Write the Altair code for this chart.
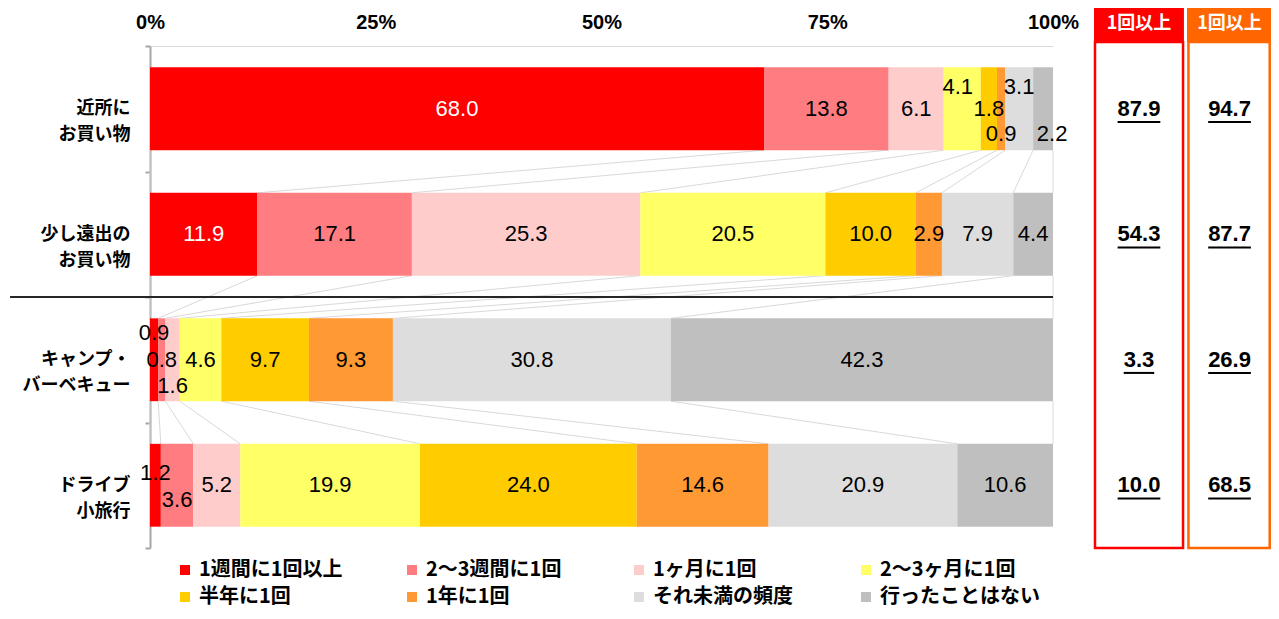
import json
import altair as alt
import pandas as pd

# ---------------- data ----------------
row_labels = [["近所に", "お買い物"], ["少し遠出の", "お買い物"],
              ["キャンプ・", "バーベキュー"], ["ドライブ", "小旅行"]]
categories = ["1週間に1回以上", "2～3週間に1回", "1ヶ月に1回", "2～3ヶ月に1回",
              "半年に1回", "1年に1回", "それ未満の頻度", "行ったことはない"]
colors = ["#FF0000", "#FF7C80", "#FFCCCC", "#FFFF66",
          "#FFCC00", "#FF9933", "#DDDDDD", "#BFBFBF"]

v_near = [68.0, 13.8, 6.1, 4.1, 1.8, 0.9, 3.1, 2.2]
v_far = [11.9, 17.1, 25.3, 20.5, 10.0, 2.9, 7.9, 4.4]
v_camp = [0.9, 0.8, 1.6, 4.6, 9.7, 9.3, 30.8, 42.3]
v_drive = [1.2, 3.6, 5.2, 19.9, 24.0, 14.6, 20.9, 10.6]
series = [v_near, v_far, v_camp, v_drive]

summary_headers = ["1回以上", "1回以上"]
summary_a = [87.9, 54.3, 3.3, 10.0]
summary_b = [94.7, 87.7, 26.9, 68.5]

x_ticks = [0, 25, 50, 75, 100]

# label nudges for small segments: (row, category index) -> (dx %, dy rows)
label_nudge = {
    (0, 3): (-0.5, -0.17), (0, 5): (0.0, 0.2), (0, 6): (0.0, -0.17),
    (0, 7): (1.0, 0.2),
    (2, 0): (0.0, -0.21), (2, 2): (0.0, 0.21),
    (3, 0): (0.0, -0.1), (3, 1): (0.0, 0.12),
}

# ---------------- layout helpers ----------------
HALF = 0.33
recs = []
cums = []
for r, vals in enumerate(series):
    c = 0.0
    cum = [0.0]
    for k, v in enumerate(vals):
        s, e = c, round(c + v, 1)
        dx, dy = label_nudge.get((r, k), (0.0, 0.0))
        recs.append(dict(row=r, cat=categories[k], start=s, end=e,
                         y0=r - HALF, y1=r + HALF,
                         lx=(s + e) / 2 + dx, ly=r + dy,
                         label=f"{v:.1f}",
                         tcol="white" if (k == 0 and v > 5) else "black"))
        c = e
        cum.append(e)
    cums.append(cum)
bars = pd.DataFrame(recs)

conn = []
for r in range(len(series) - 1):
    for k in range(len(categories) + 1):
        conn.append(dict(x=cums[r][k], x2=cums[r + 1][k],
                         y=r + HALF, y2=r + 1 - HALF))
conn = pd.DataFrame(conn)

sep = pd.DataFrame([dict(x=-15.5, x2=100, y=1.5)])

col_x = [109.52, 119.55]
hdr = pd.DataFrame([
    dict(x=104.54, x2=114.5, y=-0.9, y2=-0.532, fill="#FF0000", tx=col_x[0], ty=-0.675, t=summary_headers[0]),
    dict(x=114.84, x2=124.2, y=-0.9, y2=-0.532, fill="#FF6600", tx=col_x[1], ty=-0.675, t=summary_headers[1]),
])
box = pd.DataFrame([
    dict(x=104.65, x2=114.4, y=-0.532, y2=3.5, stroke="#FF0000"),
    dict(x=115.0, x2=124.0, y=-0.532, y2=3.5, stroke="#FF6600"),
])


def text_halfwidth(s):
    px = sum(12.2 if ch.isdigit() else 6.1 for ch in s)
    return px / 2 / 9.03


summ = []
for r in range(4):
    for j, vals in enumerate([summary_a, summary_b]):
        t = f"{vals[r]:.1f}"
        hw = text_halfwidth(t)
        summ.append(dict(x=col_x[j], y=r, t=t,
                         ux=col_x[j] - hw, ux2=col_x[j] + hw, uy=r + 0.105))
summ = pd.DataFrame(summ)

# ---------------- scales / axes ----------------
xs = alt.Scale(domain=[0, 100], nice=False, zero=False)
ys = alt.Scale(domain=[-0.5, 3.5], reverse=True, nice=False, zero=False)

lookup = [""] + row_labels
x_axis = alt.Axis(orient="top", values=x_ticks, labelExpr="datum.value + '%'",
                  title=None, ticks=False, tickSize=0, grid=False,
                  domainColor="#D9D9D9", domainWidth=1,
                  labelFont="Liberation Sans", labelFontSize=20,
                  labelFontWeight="bold", labelColor="#000000",
                  labelPadding=14, labelFlush=False, labelOverlap=False)
y_axis = alt.Axis(orient="left", values=[-0.5, 0.5, 1.5, 2.5, 3.5],
                  labelExpr=json.dumps(lookup, ensure_ascii=False) + "[round(datum.value + 0.5)]",
                  title=None, grid=False, domainColor="#A6A6A6", domainWidth=2,
                  tickColor="#A6A6A6", tickWidth=2, tickSize=5,
                  labelFont="Noto Sans CJK JP", labelFontSize=18,
                  labelFontWeight="bold", labelColor="#000000",
                  labelAlign="right", labelPadding=15, labelOffset=-62.75,
                  labelLineHeight=26, labelOverlap=False)


def X(f):
    return alt.X(f, type="quantitative", scale=xs, axis=x_axis)


def Y(f):
    return alt.Y(f, type="quantitative", scale=ys, axis=y_axis)


connectors = alt.Chart(conn).mark_rule(color="#D9D9D9", strokeWidth=1).encode(
    x=X("x"), x2="x2", y=Y("y"), y2="y2")

bar_layer = alt.Chart(bars).mark_rect().encode(
    x=X("start"), x2="end", y=Y("y0"), y2="y1",
    color=alt.Color("cat:N", scale=alt.Scale(domain=categories, range=colors),
                    sort=categories,
                    legend=alt.Legend(title=None, orient="none", columns=4,
                                      direction="horizontal",
                                      legendX=25, legendY=514, padding=0,
                                      gridAlign="all", columnPadding=43,
                                      rowPadding=7, symbolType="square",
                                      symbolSize=100, symbolStrokeWidth=0,
                                      labelFont="Noto Sans CJK JP",
                                      labelFontSize=20, labelFontWeight="bold",
                                      labelColor="#000000", labelLimit=400,
                                      labelOffset=4)))

bar_text = alt.Chart(bars).mark_text(font="Liberation Sans", fontSize=22,
                                     baseline="middle", align="center").encode(
    x=X("lx"), y=Y("ly"), text="label:N",
    color=alt.Color("tcol:N", scale=None))

sep_layer = alt.Chart(sep).mark_rule(color="#262626", strokeWidth=2).encode(
    x=X("x"), x2="x2", y=Y("y"))

hdr_rect = alt.Chart(hdr).mark_rect().encode(
    x=X("x"), x2="x2", y=Y("y"), y2="y2", fill=alt.Fill("fill:N", scale=None))
hdr_text = alt.Chart(hdr).mark_text(font="Noto Sans CJK JP", fontSize=18,
                                    fontWeight="bold", color="white",
                                    baseline="middle").encode(
    x=X("tx"), y=Y("ty"), text="t:N")
box_layer = alt.Chart(box).mark_rect(fillOpacity=0, strokeWidth=2.5).encode(
    x=X("x"), x2="x2", y=Y("y"), y2="y2", stroke=alt.Stroke("stroke:N", scale=None))
summ_text = alt.Chart(summ).mark_text(font="Liberation Sans", fontSize=22,
                                      fontWeight="bold", color="black",
                                      baseline="middle").encode(
    x=X("x"), y=Y("y"), text="t:N")
summ_line = alt.Chart(summ).mark_rule(color="black", strokeWidth=2).encode(
    x=X("ux"), x2="ux2", y=Y("uy"))

chart = alt.layer(connectors, bar_layer, bar_text, sep_layer, hdr_rect,
                  hdr_text, box_layer, summ_text, summ_line).properties(
    width=903, height=502,
    autosize=alt.AutoSizeParams(type="none"),
    padding={"left": 142, "top": 38, "right": 218, "bottom": 63},
).configure_view(stroke=None)

chart.save("out.html", embed_options={"renderer": "svg", "actions": False})
